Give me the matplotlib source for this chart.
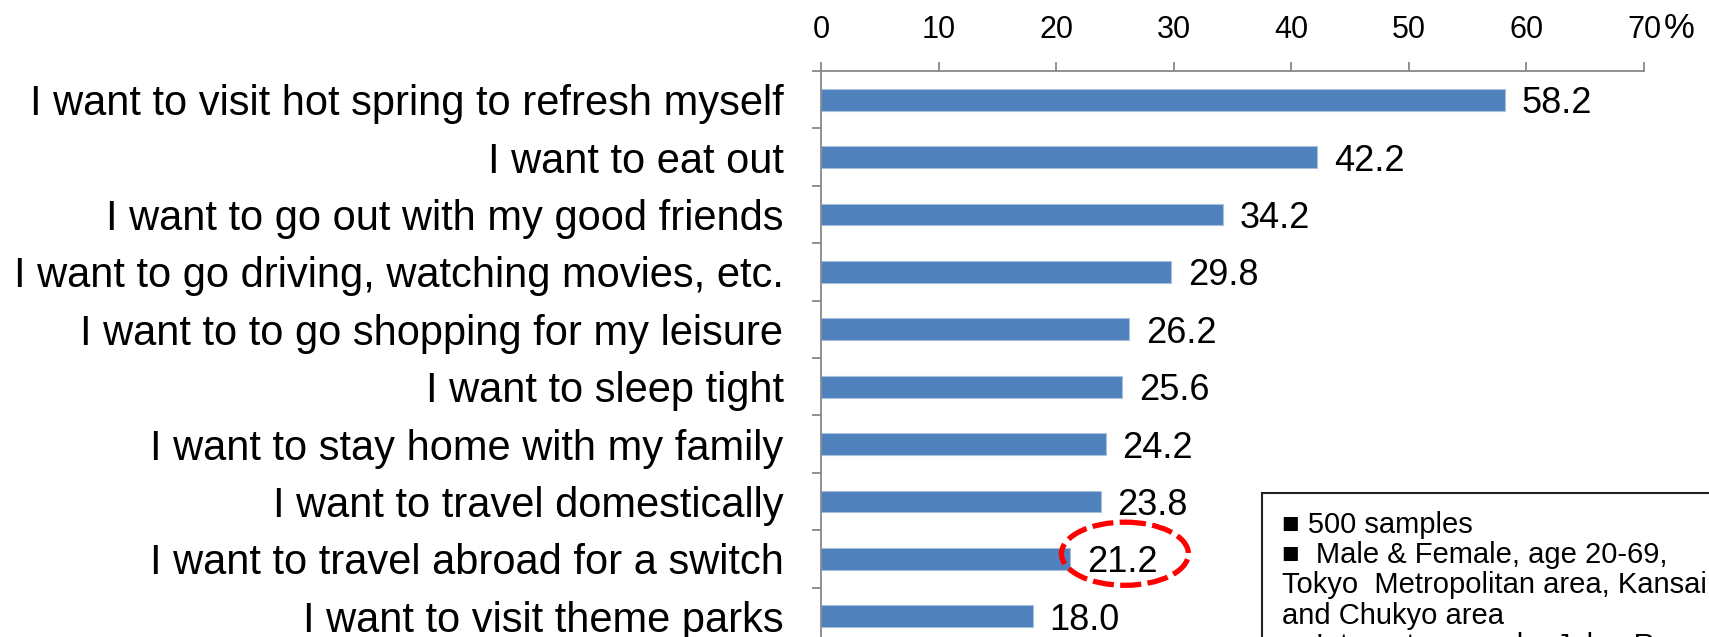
import matplotlib
matplotlib.use("Agg")
import matplotlib.pyplot as plt
from matplotlib.patches import Ellipse, Rectangle

plt.rcParams['font.family'] = ['Liberation Sans', 'DejaVu Sans']

categories = [
    "I want to visit hot spring to refresh myself",
    "I want to eat out",
    "I want to go out with my good friends",
    "I want to go driving, watching movies, etc.",
    "I want to to go shopping for my leisure",
    "I want to sleep tight",
    "I want to stay home with my family",
    "I want to travel domestically",
    "I want to travel abroad for a switch",
    "I want to visit theme parks",
]
values = [58.2, 42.2, 34.2, 29.8, 26.2, 25.6, 24.2, 23.8, 21.2, 18.0]
xticks = [0, 10, 20, 30, 40, 50, 60, 70]
xtick_labels = ["0", "10", "20", "30", "40", "50", "60", "70"]
highlight_index = 8
note_lines = [
    "■ 500 samples",
    "■  Male & Female, age 20-69,",
    "Tokyo  Metropolitan area, Kansai",
    "and Chukyo area",
    "■  Internet survey by Jalan Research",
]

W, H = 1709, 637
fig = plt.figure(figsize=(W / 100, H / 100), dpi=100)
ax_left = 821 / W
ax_right = 1644 / W
ax_top = 1 - 71 / H
slot = 57.4
n_slots = 11
ax_bottom = ax_top - n_slots * slot / H
ax = fig.add_axes([ax_left, ax_bottom, ax_right - ax_left, ax_top - ax_bottom])

y = list(range(len(categories)))
bars = ax.barh(y, values, height=0.38, color="#4F81BD", edgecolor="#A9C0DD", linewidth=0.8)
ax.set_ylim(n_slots - 0.5, -0.5)
ax.set_xlim(0, 70)

vlabels = ax.bar_label(bars, labels=[f"{v:.1f}" for v in values], padding=12,
                       fontsize=26, color="black")
for t in vlabels:
    t.set_va("center_baseline")

# axes styling
for s in ["right", "bottom"]:
    ax.spines[s].set_visible(False)
for s in ["top", "left"]:
    ax.spines[s].set_color("#888888")
    ax.spines[s].set_linewidth(1.3)

ax.xaxis.tick_top()
ax.set_xticks(xticks)
ax.set_xticklabels(xtick_labels)
ax.tick_params(axis="x", which="major", direction="out", length=6.3, width=1.3,
               color="#888888", pad=12.7, labelsize=22)
ax.annotate("%", xy=(70, 1.0), xycoords=ax.get_xaxis_transform(),
            xytext=(14, 6.3 + 12.7), textcoords="offset points",
            fontsize=25, va="bottom", ha="left")

ax.set_yticks(y)
ax.set_yticklabels(categories)
ax.set_yticks([i + 0.5 for i in range(-1, n_slots)], minor=True)
ax.tick_params(axis="y", which="major", length=0, pad=27, labelsize=30)
ax.tick_params(axis="y", which="minor", direction="out", length=6.5, width=1.3, color="#888888")

# red dashed ellipse highlight
ell = Ellipse((25.85, highlight_index - 0.09), width=10.8, height=1.1, fill=False,
              edgecolor="#FF0000", linewidth=3.8, linestyle=(0, (4, 1.2)), zorder=5)
ax.add_patch(ell)

# note box
box = Rectangle((1262 / W, -0.2), 1.0, (1 - 493 / H) + 0.2, transform=fig.transFigure,
                fill=False, edgecolor="#222222", linewidth=1.5)
fig.add_artist(box)
for i, line in enumerate(note_lines):
    fig.text(1282 / W, 1 - (525 + i * 30.2) / H, line, fontsize=21, va="center", ha="left")

fig.savefig("out.png", dpi=100)
